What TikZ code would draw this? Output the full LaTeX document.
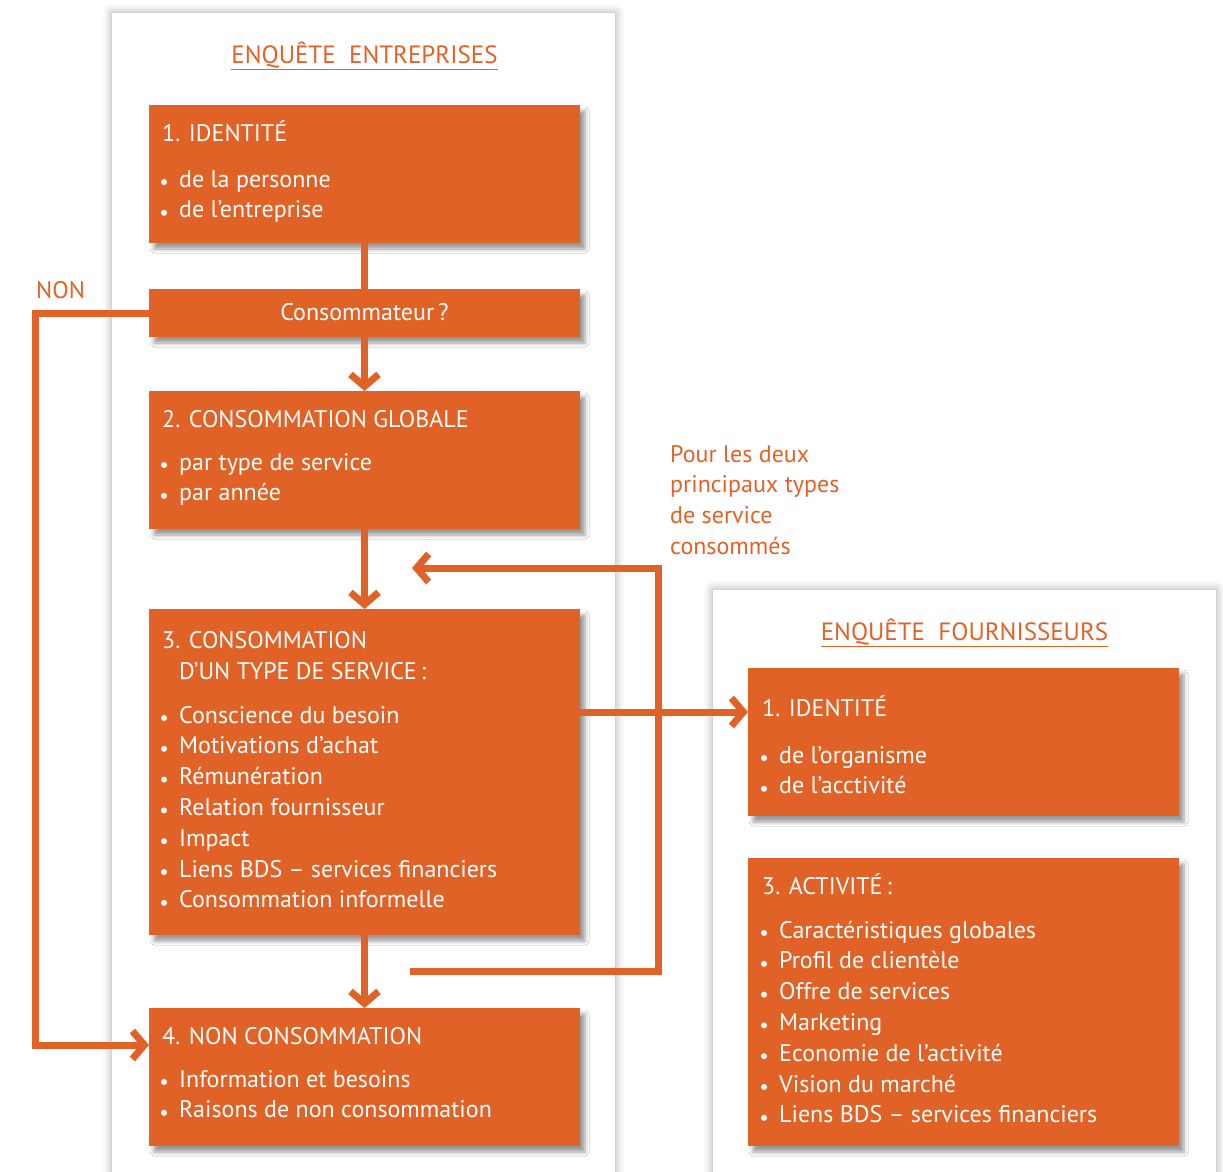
\documentclass[tikz,border=0pt]{standalone}
\usepackage{fontspec}
\setmainfont{PT Sans}
\usetikzlibrary{arrows.meta,shadows.blur}
\definecolor{org}{RGB}{225,98,38}
\tikzset{
  x=1pt, y=-1pt,
  panel/.style={fill=white, anchor=north west, inner sep=0pt, outer sep=0pt,
    blur shadow={shadow xshift=0pt, shadow yshift=0pt, shadow blur radius=9pt, shadow opacity=35}},
  box/.style={fill=org, anchor=north west, inner sep=0pt, outer sep=0pt,
    blur shadow={shadow xshift=5pt, shadow yshift=-6pt, shadow blur radius=4pt, shadow opacity=40}},
  txt/.style={anchor=base west, inner sep=0pt, text=white, font=\fontsize{24}{30}\selectfont},
  ctxt/.style={anchor=base, inner sep=0pt, text=white, font=\fontsize{24}{30}\selectfont},
  lbl/.style={anchor=base west, inner sep=0pt, text=org, font=\fontsize{24}{30}\selectfont},
  ttl/.style={anchor=base, inner sep=0pt, text=org, font=\fontsize{25}{30}\selectfont},
  bul/.style={circle, fill=white, inner sep=0pt, minimum size=6pt},
  conn/.style={draw=org, line width=7pt},
  arr/.style={conn, -{Straight Barb[length=12pt,width=28pt]}},
}
\newcommand\blist[4]{% name, x, first baseline, items
  \foreach \t [count=\i] in {#4}{
    \node[bul] (#1b\i) at (#2-15, #3+30.8*\i-30.8-5) {};
    \node[txt] (#1t\i) at (#2, #3+30.8*\i-30.8) {\t};
  }}
\begin{document}
\begin{tikzpicture}
\useasboundingbox (0,0) rectangle (1223,1171);
% panels
\node[panel, minimum width=503pt, minimum height=1190pt] (pl) at (112,13) {};
\node[panel, minimum width=503pt, minimum height=600pt] (pr) at (713,590) {};
\node[ttl] (tl) at (364.5,63) {\underline{ENQUÊTE\ \ ENTREPRISES}};
\node[ttl] (tr) at (964.5,640) {\underline{ENQUÊTE\ \ FOURNISSEURS}};
% boxes
\node[box, minimum width=431pt, minimum height=138pt] (b1) at (149,105) {};
\node[box, minimum width=431pt, minimum height=48pt] (cons) at (149,289) {};
\node[box, minimum width=431pt, minimum height=138pt] (b2) at (149,391) {};
\node[box, minimum width=431pt, minimum height=326pt] (b3) at (149,609) {};
\node[box, minimum width=431pt, minimum height=138pt] (b4) at (149,1008) {};
\node[box, minimum width=431pt, minimum height=148pt] (r1) at (748,668) {};
\node[box, minimum width=431pt, minimum height=288pt] (r3) at (748,858) {};
% texts
\node[txt] (b1h) at (162,141) {1. IDENTITÉ};
\blist{b1}{179}{187}{de la personne,de l’entreprise}
\node[ctxt] (consh) at (364.5,320) {Consommateur\,?};
\node[txt] (b2h) at (162,427) {2. CONSOMMATION GLOBALE};
\blist{b2}{179}{470}{par type de service,par année}
\node[txt] (b3h) at (162,648) {3. CONSOMMATION};
\node[txt] (b3h2) at (179,679) {D’UN TYPE DE SERVICE\,:};
\blist{b3}{179}{723}{Conscience du besoin,Motivations d’achat,Rémunération,Relation fournisseur,Impact,Liens BDS – services financiers,Consommation informelle}
\node[txt] (b4h) at (162,1044) {4. NON CONSOMMATION};
\blist{b4}{179}{1087}{Information et besoins,Raisons de non consommation}
\node[txt] (r1h) at (762,716) {1. IDENTITÉ};
\blist{r1}{779}{763}{de l’organisme,de l’acctivité}
\node[txt] (r3h) at (762,894) {3. ACTIVITÉ\,:};
\blist{r3}{779}{938}{Caractéristiques globales,Profil de clientèle,Offre de services,Marketing,Economie de l’activité,Vision du marché,Liens BDS – services financiers}
% side labels
\node[lbl] (non) at (36,298) {NON};
\foreach \t [count=\i] in {Pour les deux,principaux types,de service,consommés}
  \node[lbl] (note\i) at (670, 462+30.8*\i-30.8) {\t};
% connectors
\coordinate (nonc) at (35,313);
\coordinate (b4in) at (149,1045);
\coordinate (lp1) at (410,971);
\coordinate (lp3) at (658,568);
\coordinate (lp4) at (412,568);
\coordinate (r1in) at (748,712);
\draw[conn] (b1.south) -- (cons.north);
\draw[arr] (cons.south) -- (b2.north);
\draw[arr] (b2.south) -- (b3.north);
\draw[arr] (b3.south) -- (b4.north);
\draw[arr, line join=miter] (cons.west) -- (nonc) |- (b4in);
\draw[arr, line join=miter] (lp1) -| (lp3) -- (lp4);
\draw[arr] (b3.east |- r1in) -- (r1in);
\end{tikzpicture}
\end{document}
